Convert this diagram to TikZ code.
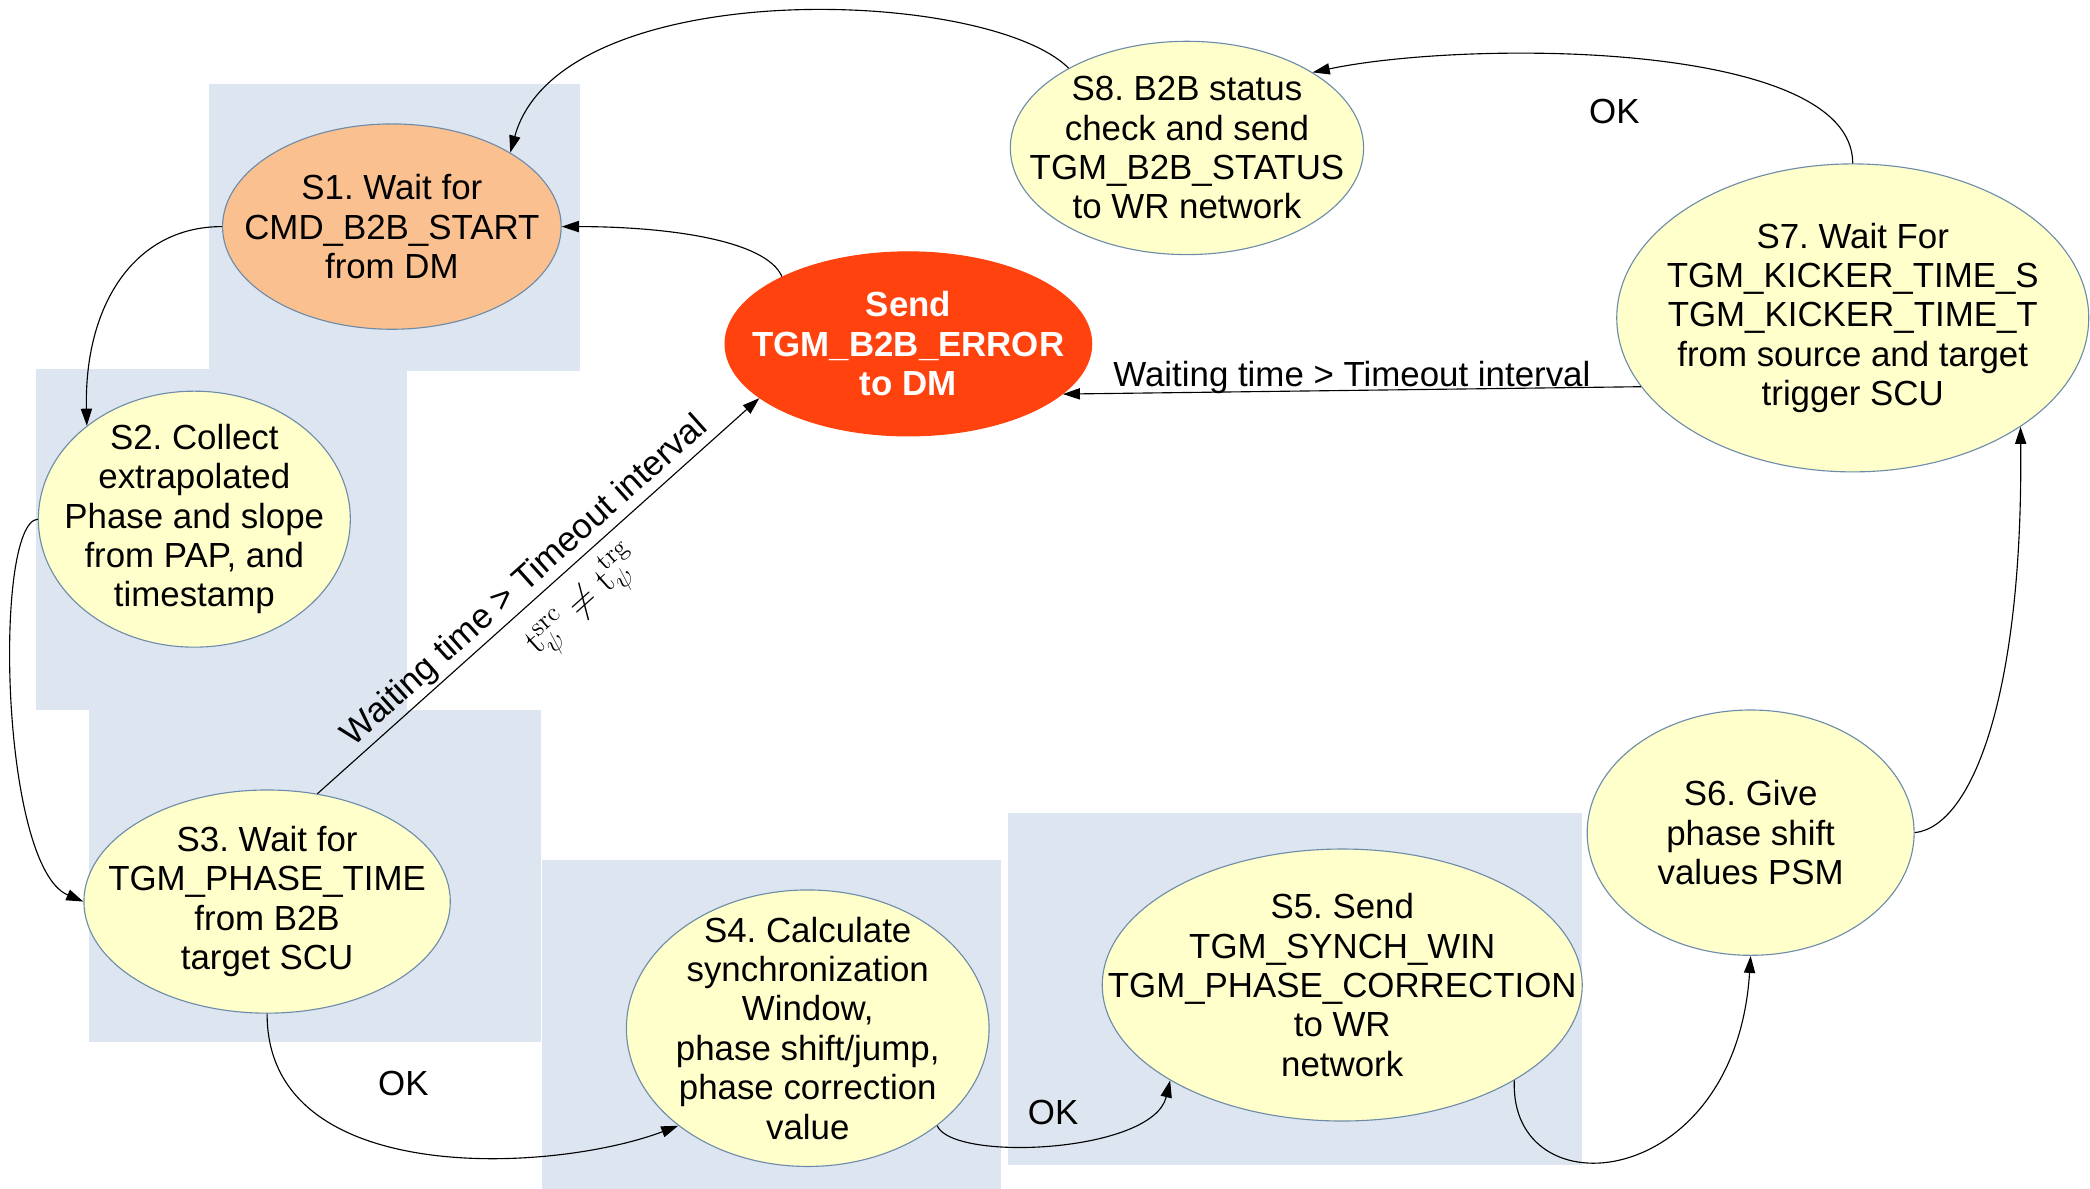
\RequirePackage{fix-cm}
\documentclass[tikz,border=0pt]{standalone}
\usepackage[no-math]{fontspec}
\setmainfont{Liberation Sans}
\usetikzlibrary{shapes.geometric,arrows.meta}
\definecolor{rectC}{RGB}{221,230,240}
\definecolor{yelC}{RGB}{255,255,204}
\definecolor{oraC}{RGB}{250,192,143}
\definecolor{errC}{RGB}{255,66,14}
\definecolor{lineC}{RGB}{110,140,170}
\newcommand{\myfs}{\fontsize{18.6}{21}\selectfont}
\frenchspacing
\begin{document}
\frenchspacing
\begin{tikzpicture}[x=0.025cm, y=-0.025cm,
  area/.style={fill=rectC, draw=none},
  st/.style={ellipse, draw=lineC, line width=0.6pt, fill=yelC, inner sep=0pt},
  txt/.style={font=\myfs, align=center, inner sep=1.5pt},
  con/.style={-{Triangle[length=0.32cm,width=0.21cm]}, line width=0.6pt},
]
\useasboundingbox (0,0) rectangle (1568,892);
\fill[white] (0,0) rectangle (1568,892);
% background areas
\fill[area] (157,63) rectangle (435,278);
\fill[area] (27,277) rectangle (305,533);
\fill[area] (67,533) rectangle (406,782);
\fill[area] (407,645) rectangle (751,892);
\fill[area] (756,610) rectangle (1187,874);
% states
\node[st, fill=oraC, minimum width=6.35cm, minimum height=3.85cm,
  label={[txt]center:{S1. Wait for\\CMD\_B2B\_START\\from DM}}] (s1) at (294,170) {};
\node[st, minimum width=5.85cm, minimum height=4.8cm,
  label={[txt]center:{S2. Collect\\extrapolated\\Phase and slope\\from PAP, and\\timestamp}}] (s2) at (145.8,389.5) {};
\node[st, fill=errC, draw=errC, minimum width=6.875cm, minimum height=3.45cm,
  label={[txt, text=white, font=\myfs\bfseries]center:{Send\\TGM\_B2B\_ERROR\\to DM}}] (err) at (681.5,258) {};
\node[st, minimum width=6.625cm, minimum height=4.0cm,
  label={[txt]center:{S8. B2B status\\check and send\\TGM\_B2B\_STATUS\\to WR network}}] (s8) at (890.5,111) {};
\node[st, minimum width=8.85cm, minimum height=5.775cm,
  label={[txt]center:{S7. Wait For\\TGM\_KICKER\_TIME\_S\\TGM\_KICKER\_TIME\_T\\from source and target\\trigger SCU}}] (s7) at (1390,238.5) {};
\node[st, minimum width=6.87cm, minimum height=4.185cm,
  label={[txt]center:{S3. Wait for\\TGM\_PHASE\_TIME\\from B2B\\target SCU}}] (s3) at (200.4,676.4) {};
\node[st, minimum width=6.8cm, minimum height=5.185cm,
  label={[txt]center:{S4. Calculate\\synchronization\\Window,\\phase shift/jump,\\phase correction\\value}}] (s4) at (606,771.4) {};
\node[st, minimum width=9.0cm, minimum height=5.1cm,
  label={[txt]center:{S5. Send\\TGM\_SYNCH\_WIN\\TGM\_PHASE\_CORRECTION\\to WR\\network}}] (s5) at (1007,739) {};
\node[st, minimum width=6.13cm, minimum height=4.6cm,
  label={[txt]center:{S6. Give\\phase shift\\values PSM}}] (s6) at (1313.4,624.7) {};
% connectors
\draw[con] (s8.146) .. controls (740,-10) and (420,-20) .. (s1.32);
\draw[con] (err.152.9) .. controls (575,180) and (500,170) .. (s1.0);
\draw[con] (s1.180) .. controls (100,170) and (63,230) .. (s2.139.2);
\draw[con] (s2.180) .. controls (-5,392) and (0,650) .. (s3.180);
\draw[con] (s3.65) -- (err.200)
  node[txt, pos=0.5, sloped, above] (lw1) {Waiting time > Timeout interval}
  node[pos=0.55, sloped, below, inner sep=5pt, font=\fontsize{20}{24}\selectfont] (lm) {$\mathrm{t}_{\psi}^{\mathrm{src}}\neq\mathrm{t}_{\psi}^{\mathrm{trg}}$};
\draw[con] (s7.198.6) -- (err.-18)
  node[txt, pos=0.5, above, yshift=-0.125cm] (lw2) {Waiting time > Timeout interval};
\draw[con] (s7.90) .. controls (1390,30) and (1100,30) .. (s8.31)
  node[txt, pos=0.5, xshift=-0.485cm, yshift=-0.985cm] (ok4) {OK};
\draw[con] (s6.0) .. controls (1480,620) and (1518,520) .. (s7.-33.4);
\draw[con] (s5.-29.4) .. controls (1132,910) and (1302,895) .. (s6.-90);
\draw[con] (s4.-37.8) .. controls (715,872) and (865,865) .. (s5.209)
  node[txt, pos=0.5, yshift=0.585cm] (ok2) {OK};
\draw[con] (s3.-90) .. controls (200,892) and (415,880) .. (s4.217.8)
  node[txt, pos=0.4, xshift=0.52cm, yshift=1.11cm] (ok1) {OK};
\end{tikzpicture}
\end{document}
